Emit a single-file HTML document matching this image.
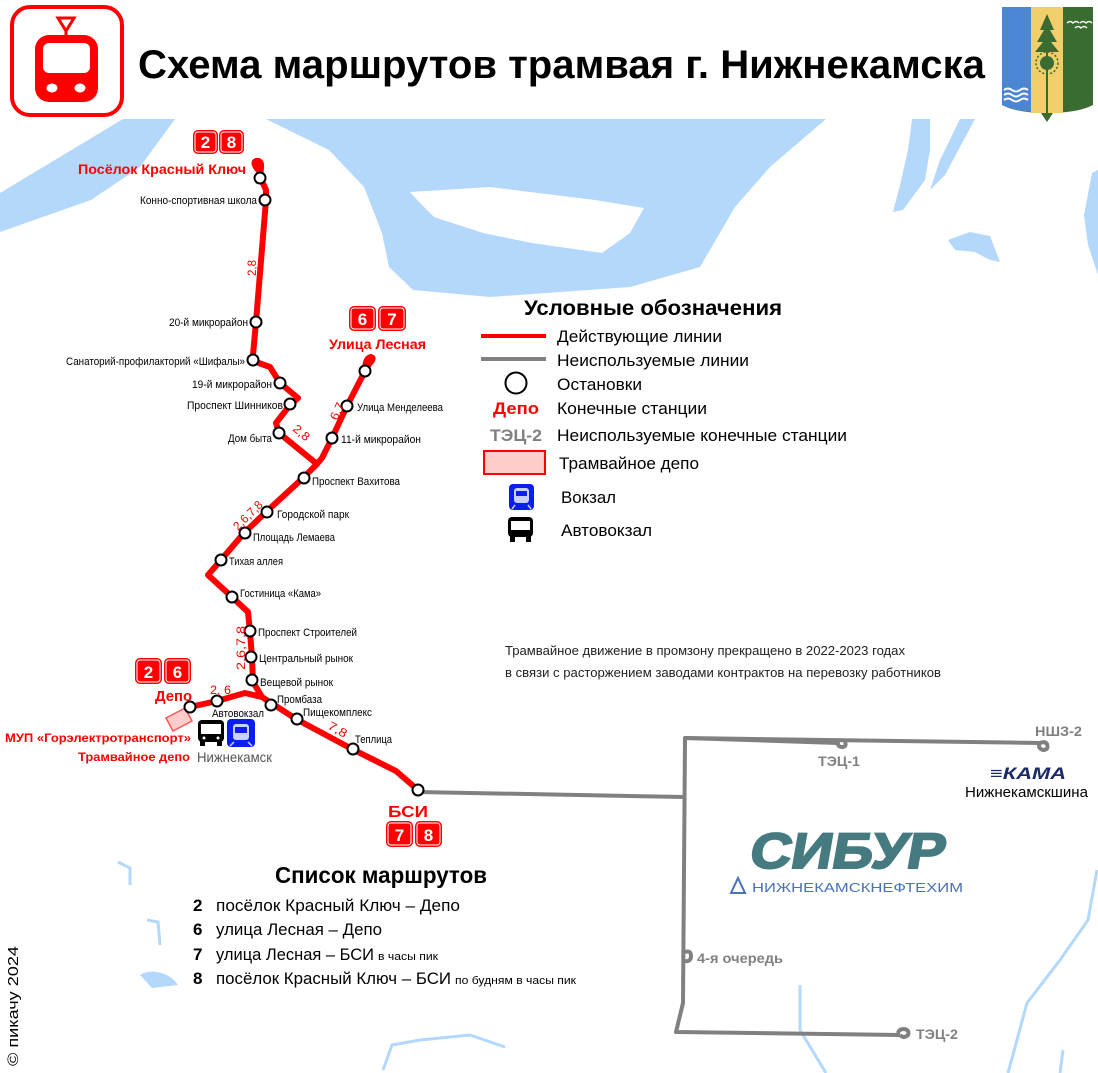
<!DOCTYPE html>
<html><head><meta charset="utf-8">
<style>
html,body{margin:0;padding:0;background:#fff;}
svg{display:block;font-family:"Liberation Sans","DejaVu Sans",sans-serif;}
.st{font-size:11px;fill:#000;}
.rl{font-size:12px;fill:#f00;}
</style></head><body>
<svg width="1098" height="1073" viewBox="0 0 1098 1073" xmlns="http://www.w3.org/2000/svg">
<!-- water -->
<g fill="#b3d8fb" stroke="none">
<path d="M266,119 L826,119 L770,167 L735,207 L700,267 L630,287 L490,297 L413,290 L389,267 L382,233 L364,187 L329,150 Z"/>
<path d="M123,119 L175,119 L140,167 L91,200 L0,232 L0,193 Z"/>
<path d="M912,119 L930,119 L930,150 L925,180 L903,210 L893,212 L900,185 L908,150 Z"/>
<path d="M960,119 L975,119 L945,175 L930,190 L940,160 Z"/>
<path d="M1092,173 L1098,170 L1098,275 L1088,245 L1084,215 Z"/>
<path d="M948,240 L970,232 L990,236 L1000,262 L990,260 L975,252 L955,250 Z"/>
<path d="M140,975 C150,968 170,972 178,985 L152,988 Z"/>
</g>
<path d="M410,192 L490,187 L595,200 L644,208 L630,233 L602,253 L532,243 L483,233 L434,217 L420,203 Z" fill="#fff"/>
<g fill="none" stroke="#b3d8fb" stroke-width="3">
<path d="M1097,870 L1088,920 L1060,960 L1027,1003 L1008,1073"/>
<path d="M800,985 L800,1030 L812,1050 L826,1073"/>
<path d="M383,1070 L392,1045 L420,1040 L470,1035 L505,1047"/>
<path d="M118,862 L130,868 L130,885"/>
<path d="M147,920 L158,922 L160,945"/>
<path d="M1060,1073 L1063,1050"/>
</g>

<!-- header icon -->
<rect x="12" y="7" width="110" height="108" rx="18" fill="none" stroke="#f00" stroke-width="4"/>
<rect x="35" y="35" width="63" height="67" rx="14" fill="#f00"/>
<rect x="43" y="43" width="47" height="30" rx="6" fill="#fff"/>
<ellipse cx="52" cy="88" rx="5.5" ry="4.5" fill="#fff"/>
<ellipse cx="80" cy="88" rx="5.5" ry="4.5" fill="#fff"/>
<path d="M58,18 L74,18 L66,31 Z" fill="none" stroke="#f00" stroke-width="3"/>
<line x1="66" y1="31" x2="66" y2="36" stroke="#f00" stroke-width="3"/>

<text x="138" y="78" font-size="40" font-weight="bold" textLength="847" lengthAdjust="spacingAndGlyphs">Схема маршрутов трамвая г. Нижнекамска</text>

<!-- coat of arms -->
<path d="M1002,7 L1093,7 L1093,105 Q1080,112 1053,113 L1047,122 L1041,113 Q1015,112 1002,105 Z" fill="#3a6b30"/>
<path d="M1002,7 L1031,7 L1031,112 Q1012,110 1002,105 Z" fill="#4a86d4"/>
<rect x="1031" y="7" width="32" height="106" fill="#f0cf6a"/>
<path d="M1047,14 L1040,30 L1044,30 L1037,42 L1043,42 L1035,52 L1059,52 L1051,42 L1057,42 L1050,30 L1054,30 Z" fill="#3a6b30"/>
<line x1="1047" y1="45" x2="1047" y2="118" stroke="#3a6b30" stroke-width="2"/>
<circle cx="1047" cy="63" r="7" fill="#3a6b30"/>
<circle cx="1047" cy="63" r="11" fill="none" stroke="#3a6b30" stroke-width="1.5" stroke-dasharray="2 2"/>
<g stroke="#fff" stroke-width="2" fill="none"><path d="M1004,90 q4,-3 8,0 q4,3 8,0 q4,-3 8,0"/><path d="M1004,95 q4,-3 8,0 q4,3 8,0 q4,-3 8,0"/><path d="M1004,100 q4,-3 8,0 q4,3 8,0 q4,-3 8,0"/></g>
<g stroke="#fff" stroke-width="1.5" fill="none"><path d="M1067,23 q3,-3 6,0 q3,-3 6,0"/><path d="M1080,23 q3,-3 6,0 q3,-3 6,0"/><path d="M1075,28 q3,-3 6,0 q3,-3 6,0"/></g>

<!-- grey lines -->
<g fill="none" stroke="#808080" stroke-width="4" stroke-linejoin="round">
<path d="M418,792 L685,797"/>
<path d="M838,743 L685,738 L683,1003 L676,1032 L900,1035"/>
<path d="M685,738 L1040,743"/>
<path d="M838,741 q-1,6 4,6 q5,0 3,-5"/>
<path d="M1040,743 q-3,5 3,7 q6,0 4,-6 q-2,-3 -7,-1"/>
<path d="M685,952 q6,-2 6,4 q0,6 -6,5"/>
<path d="M900,1035 q4,4 8,0 q2,-5 -4,-6 q-5,0 -6,4"/>
</g>
<g fill="#808080" font-weight="bold">
<text x="818" y="766" font-size="14" textLength="42" lengthAdjust="spacingAndGlyphs">ТЭЦ-1</text>
<text x="1035" y="736" font-size="14" textLength="47" lengthAdjust="spacingAndGlyphs">НШЗ-2</text>
<text x="697" y="963" font-size="14" textLength="86" lengthAdjust="spacingAndGlyphs">4-я очередь</text>
<text x="916" y="1039" font-size="14" textLength="42" lengthAdjust="spacingAndGlyphs">ТЭЦ-2</text>
</g>

<!-- red lines -->
<g fill="none" stroke="#f00" stroke-width="6" stroke-linejoin="round" stroke-linecap="round">
<path d="M260,177 L259,171 Q252,163 256,161 Q262,160 261,168 L260,177 L266,190 L266,200 L256,322 L253,355 L256,362 L270,367 L280,383 L298,398 L290,405 L276,423 L279,433 L317,464 L303,478 L266,512 L244,533 L221,560 L208,575 L232,597 L248,612 L250,632 L252,658 L253,682 L262,697 L296,719 L352,749 L396,771 L418,790"/>
<path d="M365,371 L369,364 Q375,358 371,357 Q365,358 365,371 L347,406 L332,438 L322,458 L317,464"/>
<path d="M262,697 L245,693 L217,701 L190,707 L184,715"/>
</g>
<polygon points="166,718 185,708 192,721 173,731" fill="#fcc" stroke="#f55" stroke-width="1.5"/>

<!-- stops -->
<g fill="#fff" stroke="#000" stroke-width="2">
<circle cx="260" cy="178" r="5.5"/><circle cx="265" cy="200" r="5.5"/><circle cx="256" cy="322" r="5.5"/><circle cx="253" cy="360" r="5.5"/><circle cx="280" cy="383" r="5.5"/><circle cx="290" cy="404" r="5.5"/><circle cx="279" cy="433" r="5.5"/><circle cx="332" cy="438" r="5.5"/><circle cx="347" cy="406" r="5.5"/><circle cx="365" cy="371" r="5.5"/><circle cx="304" cy="478" r="5.5"/><circle cx="267" cy="512" r="5.5"/><circle cx="245" cy="533" r="5.5"/><circle cx="221" cy="560" r="5.5"/><circle cx="232" cy="597" r="5.5"/><circle cx="250" cy="631" r="5.5"/><circle cx="251" cy="657" r="5.5"/><circle cx="252" cy="680" r="5.5"/><circle cx="271" cy="705" r="5.5"/><circle cx="297" cy="719" r="5.5"/><circle cx="353" cy="749" r="5.5"/><circle cx="418" cy="790" r="5.5"/><circle cx="217" cy="701" r="5.5"/><circle cx="190" cy="707" r="5.5"/>
</g>

<!-- station labels -->
<g class="st">
<text x="140" y="204" textLength="117" lengthAdjust="spacingAndGlyphs">Конно-спортивная школа</text>
<text x="169" y="326" textLength="79" lengthAdjust="spacingAndGlyphs">20-й микрорайон</text>
<text x="66" y="365" textLength="179" lengthAdjust="spacingAndGlyphs">Санаторий-профилакторий «Шифалы»</text>
<text x="192" y="388" textLength="80" lengthAdjust="spacingAndGlyphs">19-й микрорайон</text>
<text x="187" y="409" textLength="96" lengthAdjust="spacingAndGlyphs">Проспект Шинников</text>
<text x="228" y="442" textLength="44" lengthAdjust="spacingAndGlyphs">Дом быта</text>
<text x="357" y="411" textLength="86" lengthAdjust="spacingAndGlyphs">Улица Менделеева</text>
<text x="341" y="443" textLength="80" lengthAdjust="spacingAndGlyphs">11-й микрорайон</text>
<text x="312" y="485" textLength="88" lengthAdjust="spacingAndGlyphs">Проспект Вахитова</text>
<text x="277" y="518" textLength="72" lengthAdjust="spacingAndGlyphs">Городской парк</text>
<text x="253" y="541" textLength="82" lengthAdjust="spacingAndGlyphs">Площадь Лемаева</text>
<text x="229" y="565" textLength="54" lengthAdjust="spacingAndGlyphs">Тихая аллея</text>
<text x="240" y="597" textLength="81" lengthAdjust="spacingAndGlyphs">Гостиница «Кама»</text>
<text x="258" y="636" textLength="99" lengthAdjust="spacingAndGlyphs">Проспект Строителей</text>
<text x="259" y="662" textLength="94" lengthAdjust="spacingAndGlyphs">Центральный рынок</text>
<text x="260" y="686" textLength="73" lengthAdjust="spacingAndGlyphs">Вещевой рынок</text>
<text x="277" y="703" textLength="45" lengthAdjust="spacingAndGlyphs">Промбаза</text>
<text x="303" y="716" textLength="69" lengthAdjust="spacingAndGlyphs">Пищекомплекс</text>
<text x="355" y="743" textLength="37" lengthAdjust="spacingAndGlyphs">Теплица</text>
<text x="212" y="717" textLength="52" lengthAdjust="spacingAndGlyphs">Автовокзал</text>
</g>

<!-- route labels on lines -->
<g class="rl">
<text transform="translate(256,276) rotate(-90)" textLength="16" lengthAdjust="spacingAndGlyphs">2,8</text>
<text transform="translate(292,430) rotate(40)" textLength="18" lengthAdjust="spacingAndGlyphs">2,8</text>
<text transform="translate(337,421) rotate(-65)" textLength="18" lengthAdjust="spacingAndGlyphs">6,7</text>
<text transform="translate(238,531) rotate(-45)" textLength="36" lengthAdjust="spacingAndGlyphs">2,6,7,8</text>
<text transform="translate(245,670) rotate(-90)" textLength="44" lengthAdjust="spacingAndGlyphs">2,6,7,8</text>
<text x="210" y="694" textLength="21" lengthAdjust="spacingAndGlyphs">2, 6</text>
<text transform="translate(327,728) rotate(30)" textLength="20" lengthAdjust="spacingAndGlyphs">7,8</text>
</g>

<!-- badges -->
<g font-weight="bold" font-size="17" text-anchor="middle">
<g><rect x="193" y="130" width="25" height="24" rx="5" fill="#f00"/><rect x="195" y="132" width="21" height="20" rx="3" fill="none" stroke="#fff" stroke-width="1"/><text x="205.5" y="148" fill="#fff">2</text></g>
<g><rect x="219" y="130" width="25" height="24" rx="5" fill="#f00"/><rect x="221" y="132" width="21" height="20" rx="3" fill="none" stroke="#fff" stroke-width="1"/><text x="231.5" y="148" fill="#fff">8</text></g>
<g><rect x="349" y="306" width="27" height="25" rx="5" fill="#f00"/><rect x="351" y="308" width="23" height="21" rx="3" fill="none" stroke="#fff" stroke-width="1"/><text x="362.5" y="325" fill="#fff">6</text></g>
<g><rect x="378" y="306" width="28" height="25" rx="5" fill="#f00"/><rect x="380" y="308" width="24" height="21" rx="3" fill="none" stroke="#fff" stroke-width="1"/><text x="392" y="325" fill="#fff">7</text></g>
<g><rect x="135" y="658" width="27" height="26" rx="5" fill="#f00"/><rect x="137" y="660" width="23" height="22" rx="3" fill="none" stroke="#fff" stroke-width="1"/><text x="148.5" y="678" fill="#fff">2</text></g>
<g><rect x="164" y="658" width="27" height="26" rx="5" fill="#f00"/><rect x="166" y="660" width="23" height="22" rx="3" fill="none" stroke="#fff" stroke-width="1"/><text x="177.5" y="678" fill="#fff">6</text></g>
<g><rect x="386" y="821" width="27" height="26" rx="5" fill="#f00"/><rect x="388" y="823" width="23" height="22" rx="3" fill="none" stroke="#fff" stroke-width="1"/><text x="399.5" y="841" fill="#fff">7</text></g>
<g><rect x="415" y="821" width="27" height="26" rx="5" fill="#f00"/><rect x="417" y="823" width="23" height="22" rx="3" fill="none" stroke="#fff" stroke-width="1"/><text x="428.5" y="841" fill="#fff">8</text></g>
</g>

<!-- terminal labels -->
<g fill="#f00" font-weight="bold">
<text x="78" y="174" font-size="14" textLength="168" lengthAdjust="spacingAndGlyphs">Посёлок Красный Ключ</text>
<text x="329" y="349" font-size="14" textLength="97" lengthAdjust="spacingAndGlyphs">Улица Лесная</text>
<text x="155" y="701" font-size="15" textLength="37" lengthAdjust="spacingAndGlyphs">Депо</text>
<text x="5" y="742" font-size="12" textLength="186" lengthAdjust="spacingAndGlyphs">МУП «Горэлектротранспорт»</text>
<text x="78" y="761" font-size="12" textLength="112" lengthAdjust="spacingAndGlyphs">Трамвайное депо</text>
<text x="388" y="817" font-size="16" textLength="40" lengthAdjust="spacingAndGlyphs">БСИ</text>
</g>
<text x="197" y="762" font-size="14" fill="#555" textLength="75" lengthAdjust="spacingAndGlyphs">Нижнекамск</text>

<!-- bus / train icons -->
<g>
<rect x="198" y="720" width="26" height="22" rx="4" fill="#000"/>
<rect x="201" y="724" width="20" height="10" fill="#fff"/>
<rect x="200" y="740" width="5" height="6" fill="#000"/><rect x="217" y="740" width="5" height="6" fill="#000"/>
<circle cx="204" cy="738" r="1.5" fill="#fff"/><circle cx="218" cy="738" r="1.5" fill="#fff"/>
</g>
<g>
<rect x="227" y="719" width="28" height="28" rx="4" fill="#0a1ef0"/>
<rect x="233" y="724" width="16" height="16" rx="3" fill="#c8d0ff"/>
<rect x="235" y="727" width="12" height="6" fill="#0a1ef0"/>
<path d="M234,742 L230,746 M248,742 L252,746" stroke="#c8d0ff" stroke-width="1.5"/>
</g>

<!-- legend -->
<text x="524" y="315" font-size="21" font-weight="bold" textLength="258" lengthAdjust="spacingAndGlyphs">Условные обозначения</text>
<line x1="481" y1="336" x2="546" y2="336" stroke="#f00" stroke-width="4"/>
<line x1="481" y1="359" x2="546" y2="359" stroke="#808080" stroke-width="4"/>
<circle cx="516" cy="383" r="10.5" fill="#fff" stroke="#000" stroke-width="2"/>
<text x="493" y="414" font-size="17" font-weight="bold" fill="#f00" textLength="46" lengthAdjust="spacingAndGlyphs">Депо</text>
<text x="490" y="441" font-size="17" font-weight="bold" fill="#808080" textLength="52" lengthAdjust="spacingAndGlyphs">ТЭЦ-2</text>
<rect x="484" y="451" width="61" height="23" fill="#fcc" stroke="#f00" stroke-width="2"/>
<g>
<rect x="509" y="484" width="25" height="26" rx="4" fill="#0a1ef0"/>
<rect x="514" y="488" width="15" height="15" rx="3" fill="#c8d0ff"/>
<rect x="516" y="491" width="11" height="5" fill="#0a1ef0"/>
<path d="M515,505 L512,509 M528,505 L531,509" stroke="#c8d0ff" stroke-width="1.5"/>
</g>
<g>
<rect x="508" y="517" width="25" height="20" rx="4" fill="#000"/>
<rect x="511" y="521" width="19" height="9" fill="#fff"/>
<rect x="510" y="535" width="5" height="7" fill="#000"/><rect x="526" y="535" width="5" height="7" fill="#000"/>
</g>
<g font-size="17" fill="#000">
<text x="557" y="342" textLength="165" lengthAdjust="spacingAndGlyphs">Действующие линии</text>
<text x="557" y="366" textLength="192" lengthAdjust="spacingAndGlyphs">Неиспользуемые линии</text>
<text x="557" y="390" textLength="85" lengthAdjust="spacingAndGlyphs">Остановки</text>
<text x="557" y="414" textLength="150" lengthAdjust="spacingAndGlyphs">Конечные станции</text>
<text x="557" y="441" textLength="290" lengthAdjust="spacingAndGlyphs">Неиспользуемые конечные станции</text>
<text x="559" y="469" textLength="140" lengthAdjust="spacingAndGlyphs">Трамвайное депо</text>
<text x="561" y="503" textLength="55" lengthAdjust="spacingAndGlyphs">Вокзал</text>
<text x="561" y="536" textLength="91" lengthAdjust="spacingAndGlyphs">Автовокзал</text>
</g>

<!-- note -->
<g font-size="13" fill="#222">
<text x="505" y="655" textLength="400" lengthAdjust="spacingAndGlyphs">Трамвайное движение в промзону прекращено в 2022-2023 годах</text>
<text x="505" y="677" textLength="436" lengthAdjust="spacingAndGlyphs">в связи с расторжением заводами контрактов на перевозку работников</text>
</g>

<!-- companies -->
<text x="990" y="779" font-size="17" font-weight="bold" font-style="italic" fill="#1b2a6b" textLength="76" lengthAdjust="spacingAndGlyphs">≡КАМА</text>
<text x="965" y="797" font-size="15" fill="#000" textLength="123" lengthAdjust="spacingAndGlyphs">Нижнекамскшина</text>
<text transform="translate(748,868) skewX(-10)" font-size="50" font-weight="bold" fill="#457a80" stroke="#457a80" stroke-width="2" textLength="195" lengthAdjust="spacingAndGlyphs">СИБУР</text>
<path d="M738,878 L745,893 L731,893 Z" fill="none" stroke="#4a72b8" stroke-width="2"/>
<text x="752" y="892" font-size="13" fill="#4a72b8" textLength="211" lengthAdjust="spacingAndGlyphs">НИЖНЕКАМСКНЕФТЕХИМ</text>

<!-- routes list -->
<text x="275" y="883" font-size="23" font-weight="bold" textLength="212" lengthAdjust="spacingAndGlyphs">Список маршрутов</text>
<g font-size="17" fill="#000">
<text x="193" y="911" font-weight="bold">2</text>
<text x="216" y="911" textLength="244" lengthAdjust="spacingAndGlyphs">посёлок Красный Ключ – Депо</text>
<text x="193" y="935" font-weight="bold">6</text>
<text x="216" y="935" textLength="166" lengthAdjust="spacingAndGlyphs">улица Лесная – Депо</text>
<text x="193" y="960" font-weight="bold">7</text>
<text x="216" y="960" textLength="158" lengthAdjust="spacingAndGlyphs">улица Лесная – БСИ</text>
<text x="378" y="960" font-size="11" textLength="60" lengthAdjust="spacingAndGlyphs">в часы пик</text>
<text x="193" y="984" font-weight="bold">8</text>
<text x="216" y="984" textLength="235" lengthAdjust="spacingAndGlyphs">посёлок Красный Ключ – БСИ</text>
<text x="455" y="984" font-size="11" textLength="121" lengthAdjust="spacingAndGlyphs">по будням в часы пик</text>
</g>

<text transform="translate(18,1066) rotate(-90)" font-size="15" fill="#000" textLength="120" lengthAdjust="spacingAndGlyphs">© пикачу 2024</text>
</svg>
</body></html>
